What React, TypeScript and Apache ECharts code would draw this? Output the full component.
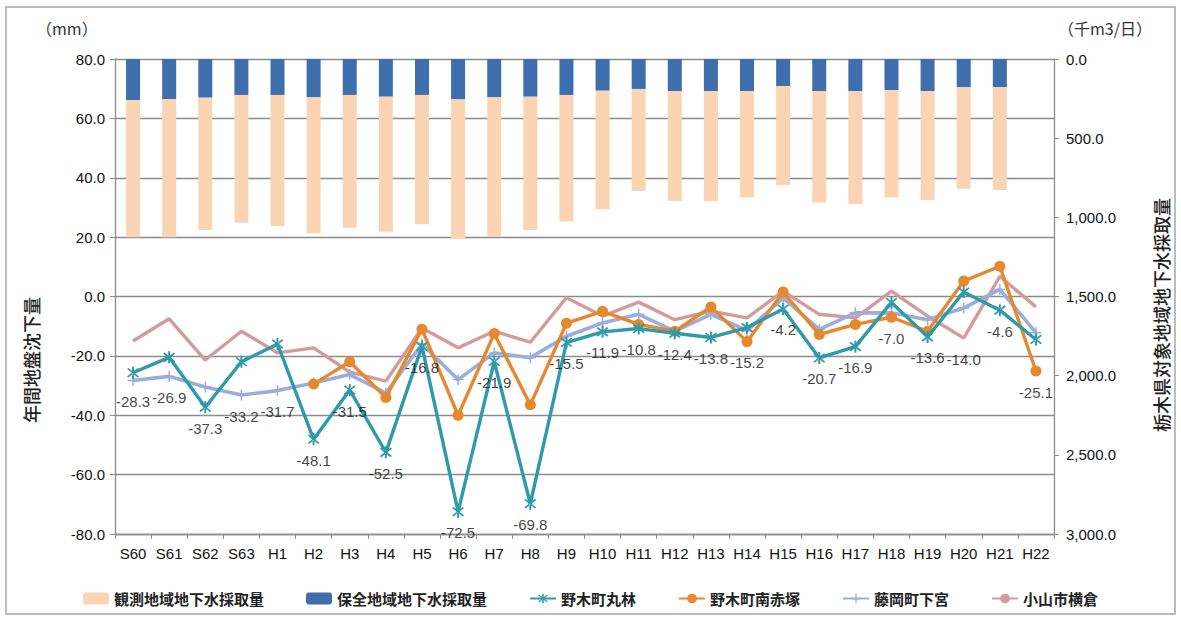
import React, { useEffect, useRef } from "react";
import * as echarts from "echarts";

const categories = ["S60", "S61", "S62", "S63", "H1", "H2", "H3", "H4", "H5", "H6", "H7", "H8", "H9", "H10", "H11", "H12", "H13", "H14", "H15", "H16", "H17", "H18", "H19", "H20", "H21", "H22"];

// 千m3/日
const observedArea = [867, 873, 836, 807, 828, 859, 838, 853, 817, 882, 880, 842, 800, 749, 645, 695, 697, 672, 627, 705, 714, 678, 689, 640, 648, null];
const conservationArea = [259, 253, 244, 227, 227, 242, 227, 238, 227, 255, 242, 238, 227, 200, 189, 202, 202, 202, 171, 202, 202, 196, 202, 179, 179, null];

// mm
const nogiMaruyashi = [-25.7, -20.5, -37.3, -22.0, -16.0, -48.1, -31.5, -52.5, -16.8, -72.5, -21.9, -69.8, -15.5, -11.9, -10.8, -12.4, -13.8, -10.5, -4.2, -20.7, -16.9, -2.0, -13.6, 1.5, -4.6, -14.5];
const nogiMinamiAkatsuka = [null, null, null, null, null, -29.5, -22.0, -34.0, -11.0, -40.0, -12.5, -36.5, -9.0, -5.0, -9.4, -11.7, -3.5, -15.2, 1.5, -12.8, -9.4, -7.0, -11.7, 5.2, 10.2, -25.1];
const fujiokaShimomiya = [-28.3, -26.9, -30.5, -33.2, -31.7, -29.1, -26.3, -32.5, -16.0, -28.0, -19.0, -20.6, -13.4, -8.9, -6.0, -11.7, -6.0, -11.5, -0.5, -11.1, -5.5, -5.5, -7.8, -3.9, 2.4, -12.2];
const oyamaYokokura = [-15.0, -7.5, -21.4, -11.7, -19.0, -17.3, -25.5, -28.5, -10.6, -17.3, -11.7, -15.4, -0.4, -6.6, -1.9, -7.8, -4.9, -7.2, 1.8, -6.0, -7.2, 1.8, -6.6, -14.0, 6.8, -3.5];
const maxSubsidence = [-28.3, -26.9, -37.3, -33.2, -31.7, -48.1, -31.5, -52.5, -16.8, -72.5, -21.9, -69.8, -15.5, -11.9, -10.8, -12.4, -13.8, -15.2, -4.2, -20.7, -16.9, -7.0, -13.6, -14.0, -4.6, -25.1];

const leftTicks = { min: -80, max: 80, interval: 20 };
const rightTicks = { min: 0, max: 3000, interval: 500 };

const FONT = "'Liberation Sans Narrow','Liberation Sans','Noto Sans CJK JP',sans-serif";
const CJK = "'Noto Sans CJK JP',sans-serif";

const ASTERISK =
  "path://M-0.8,-6 L0.8,-6 L0.8,6 L-0.8,6 Z M-4.8,-3.7 L-3.7,-4.8 L4.8,3.7 L3.7,4.8 Z M4.8,-3.7 L3.7,-4.8 L-4.8,3.7 L-3.7,4.8 Z";
const PLUS = "path://M-0.8,-6 L0.8,-6 L0.8,6 L-0.8,6 Z M-6,-0.8 L6,-0.8 L6,0.8 L-6,0.8 Z";

export default function App() {
  const ref = useRef<HTMLDivElement>(null);
  useEffect(() => {
    document.body.style.margin = "0";
    const chart = echarts.init(ref.current!, null, { renderer: "svg" });
    const fmt1 = (v: number) => v.toFixed(1);
    const fmtComma = (v: number) =>
      v.toLocaleString("en-US", { minimumFractionDigits: 1, maximumFractionDigits: 1 });
    chart.setOption({
      animation: false,
      textStyle: { fontFamily: FONT },
      grid: { left: 115, right: 127, top: 59, bottom: 85 },
      graphic: [
        { type: "rect", shape: { x: 6, y: 7, width: 1169, height: 607 }, style: { fill: "none", stroke: "#a6a6a6", lineWidth: 1.5 }, z: -1 },
        { type: "text", left: 36, top: 20, style: { text: "（mm）", font: `16px ${CJK}`, fill: "#333" } },
        { type: "text", left: 1058, top: 20, style: { text: "（千m3/日）", font: `16px ${CJK}`, fill: "#333" } },
        { type: "text", x: 31, y: 360, rotation: Math.PI / 2, style: { text: "年間地盤沈下量", font: `500 18px ${CJK}`, fill: "#222", align: "center", verticalAlign: "middle" } },
        { type: "text", x: 1161, y: 315, rotation: Math.PI / 2, style: { text: "栃木県対象地域地下水採取量", font: `500 18px ${CJK}`, fill: "#222", align: "center", verticalAlign: "middle" } },
      ],
      legend: {
        bottom: 8,
        left: "center",
        itemGap: 42,
        itemWidth: 26,
        itemHeight: 12,
        textStyle: { fontFamily: CJK, fontSize: 15, fontWeight: "bold", color: "#222" },
        data: ["観測地域地下水採取量", "保全地域地下水採取量", "野木町丸林", "野木町南赤塚", "藤岡町下宮", "小山市横倉"],
      },
      xAxis: {
        type: "category",
        data: categories,
        axisLine: { onZero: false, lineStyle: { color: "#8c8c8c", width: 1.3 } },
        axisTick: { show: true, length: 5, lineStyle: { color: "#8c8c8c" } },
        axisLabel: { color: "#111", fontSize: 15, margin: 12, fontFamily: FONT },
      },
      yAxis: [
        {
          type: "value",
          min: leftTicks.min,
          max: leftTicks.max,
          interval: leftTicks.interval,
          axisLine: { show: true, lineStyle: { color: "#8c8c8c", width: 1.3 } },
          axisTick: { show: true, length: 5, lineStyle: { color: "#8c8c8c" } },
          axisLabel: { color: "#111", fontSize: 15, formatter: fmt1, margin: 10 },
          splitLine: { lineStyle: { color: "#8c8c8c", width: 1.3 } },
        },
        {
          type: "value",
          min: rightTicks.min,
          max: rightTicks.max,
          interval: rightTicks.interval,
          inverse: true,
          position: "right",
          axisLine: { show: true, lineStyle: { color: "#8c8c8c", width: 1.3 } },
          axisTick: { show: true, length: 5, lineStyle: { color: "#8c8c8c" } },
          axisLabel: { color: "#111", fontSize: 15, formatter: fmtComma, margin: 12 },
          splitLine: { show: false },
        },
      ],
      series: [
        {
          name: "保全地域地下水採取量",
          type: "bar",
          yAxisIndex: 1,
          stack: "water",
          barWidth: 14,
          itemStyle: { color: "#3e6eac" },
          data: conservationArea,
        },
        {
          name: "観測地域地下水採取量",
          type: "bar",
          yAxisIndex: 1,
          stack: "water",
          barWidth: 14,
          itemStyle: { color: "#fbd4b3" },
          data: observedArea,
        },
        {
          name: "小山市横倉",
          type: "line",
          yAxisIndex: 0,
          z: 3,
          symbol: "none",
          lineStyle: { color: "#d49a9c", width: 3.4 },
          itemStyle: { color: "#d49a9c" },
          data: oyamaYokokura,
        },
        {
          name: "藤岡町下宮",
          type: "line",
          yAxisIndex: 0,
          z: 4,
          symbol: PLUS,
          symbolSize: 11,
          lineStyle: { color: "#9aaedd", width: 3.6 },
          itemStyle: { color: "#9aaedd" },
          data: fujiokaShimomiya,
        },
        {
          name: "野木町南赤塚",
          type: "line",
          yAxisIndex: 0,
          z: 5,
          symbol: "circle",
          symbolSize: 11,
          lineStyle: { color: "#e6892e", width: 3.4 },
          itemStyle: { color: "#e6892e" },
          data: nogiMinamiAkatsuka,
        },
        {
          name: "野木町丸林",
          type: "line",
          yAxisIndex: 0,
          z: 6,
          symbol: ASTERISK,
          symbolSize: 12,
          lineStyle: { color: "#2f9aa9", width: 3.4 },
          itemStyle: { color: "#2f9aa9" },
          data: nogiMaruyashi,
        },
        {
          name: "最大沈下量",
          type: "scatter",
          yAxisIndex: 0,
          z: 7,
          symbolSize: 1,
          itemStyle: { color: "rgba(0,0,0,0)" },
          label: {
            show: true,
            position: "bottom",
            distance: 13,
            color: "#111",
            fontSize: 15,
            fontFamily: FONT,
            formatter: (p: any) => fmt1(p.value),
          },
          data: maxSubsidence,
        },
      ],
    });
    return () => chart.dispose();
  }, []);
  return <div ref={ref} style={{ width: 1181, height: 619 }} />;
}
